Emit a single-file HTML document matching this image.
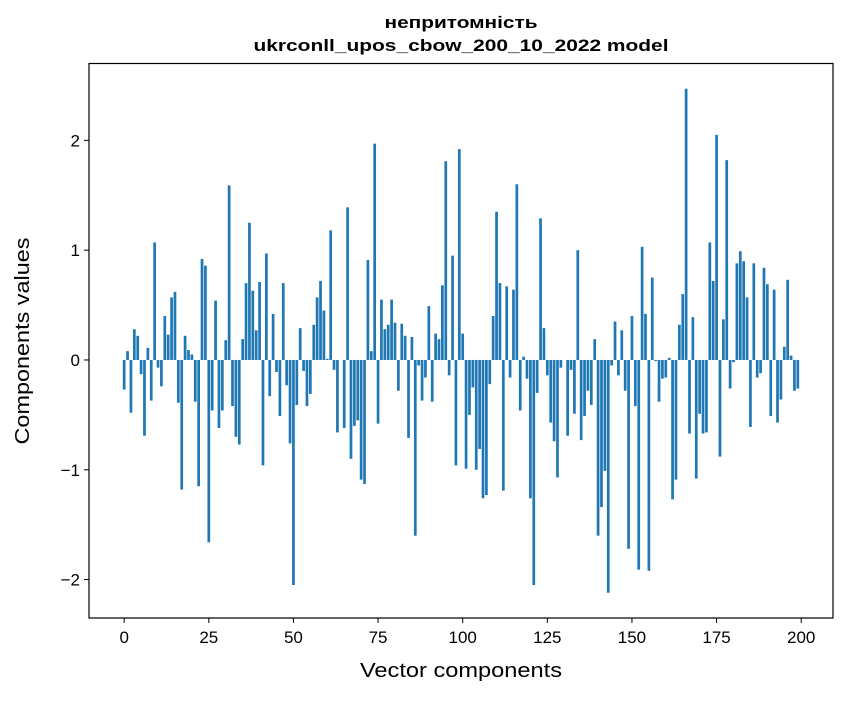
<!DOCTYPE html>
<html><head><meta charset="utf-8"><style>
body{margin:0;background:#fff;}
svg text{font-family:"Liberation Sans","DejaVu Sans",sans-serif;fill:#000;}
</style></head><body>
<svg id="chart" width="847" height="696" viewBox="0 0 847 696" xmlns="http://www.w3.org/2000/svg">
<rect x="0" y="0" width="847" height="696" fill="#fff"/>
<text x="461" y="28" text-anchor="middle" font-size="17" font-weight="bold" textLength="153" lengthAdjust="spacingAndGlyphs">непритомність</text>
<text x="461" y="51" text-anchor="middle" font-size="17" font-weight="bold" textLength="415" lengthAdjust="spacingAndGlyphs">ukrconll_upos_cbow_200_10_2022 model</text>
<g id="bars"></g>
<g id="xticks"></g>
<g id="yticks"></g>
<rect x="89" y="63.5" width="744" height="554.5" fill="none" stroke="#000" stroke-width="1.2"/>
<text x="461" y="677" text-anchor="middle" font-size="20" textLength="202" lengthAdjust="spacingAndGlyphs">Vector components</text>
<text x="0" y="0" transform="translate(29,341) rotate(-90)" text-anchor="middle" font-size="20" textLength="207" lengthAdjust="spacingAndGlyphs">Components values</text>
</svg>
<script>
const values = [-0.27,0.08,-0.48,0.28,0.22,-0.13,-0.69,0.11,-0.37,1.07,
-0.07,-0.24,0.40,0.23,0.57,0.62,-0.39,-1.18,0.22,0.09,
0.05,-0.38,-1.15,0.92,0.86,-1.66,-0.46,0.54,-0.62,-0.46,
0.18,1.59,-0.42,-0.70,-0.77,0.19,0.70,1.25,0.63,0.27,
0.71,-0.96,0.97,-0.33,0.42,-0.11,-0.51,0.70,-0.23,-0.76,
-2.05,-0.41,0.29,-0.10,-0.42,-0.31,0.32,0.57,0.72,0.45,
0.01,1.18,-0.09,-0.66,0,-0.62,1.39,-0.90,-0.60,-0.55,
-1.09,-1.13,0.91,0.08,1.97,-0.58,0.55,0.28,0.32,0.55,
0.34,-0.28,0.33,0.22,-0.71,0.21,-1.60,-0.05,-0.37,-0.16,
0.49,-0.38,0.24,0.19,0.68,1.81,-0.14,0.95,-0.96,1.92,
0.24,-0.99,-0.50,-0.25,-1.00,-0.81,-1.26,-1.23,-0.22,0.40,
1.35,0.70,-1.19,0.67,-0.16,0.64,1.60,-0.46,0.03,-0.17,
-1.26,-2.05,-0.30,1.29,0.29,-0.14,-0.57,-0.74,-1.07,-0.07,
0,-0.69,-0.09,-0.49,1.00,-0.73,-0.51,-0.28,-0.41,0.19,
-1.60,-1.34,-1.01,-2.12,-0.05,0.35,-0.14,0.27,-0.28,-1.72,
0.40,-0.42,-1.91,1.03,0.42,-1.92,0.75,-0.01,-0.38,-0.17,
-0.16,0.02,-1.27,-1.09,0.32,0.60,2.47,-0.67,0.39,-1.08,
-0.49,-0.67,-0.66,1.07,0.72,2.05,-0.88,0.37,1.82,-0.26,
-0.02,0.88,0.99,0.90,0.57,-0.61,0.88,-0.16,-0.12,0.84,
0.69,-0.51,0.64,-0.57,-0.36,0.12,0.73,0.04,-0.28,-0.26];
const xTicks = [0,25,50,75,100,125,150,175,200];
const yTicks = [-2,-1,0,1,2];
const yTickLabels = ["\u22122","\u22121","0","1","2"];

const NS = "http://www.w3.org/2000/svg";
const X0 = 89, X1 = 833, Y0 = 63.5, Y1 = 618;
const xMin = -10.39, xMax = 209.39, yMin = -2.35, yMax = 2.70;
function xs(v){ return X0 + (v - xMin) / (xMax - xMin) * (X1 - X0); }
function ys(v){ return Y1 - (v - yMin) / (yMax - yMin) * (Y1 - Y0); }

const gb = document.getElementById('bars');
values.forEach((v, i) => {
  const r = document.createElementNS(NS, 'rect');
  const xl = xs(i - 0.4), xr = xs(i + 0.4);
  const yt = ys(Math.max(v, 0)), yb = ys(Math.min(v, 0));
  r.setAttribute('x', xl);
  r.setAttribute('width', xr - xl);
  r.setAttribute('y', yt);
  r.setAttribute('height', Math.max(yb - yt, 0));
  r.setAttribute('fill', '#1f77b4');
  
  
  gb.appendChild(r);
});

const gx = document.getElementById('xticks');
xTicks.forEach(t => {
  const l = document.createElementNS(NS, 'line');
  l.setAttribute('x1', xs(t)); l.setAttribute('x2', xs(t));
  l.setAttribute('y1', Y1); l.setAttribute('y2', Y1 + 5);
  l.setAttribute('stroke', '#000'); l.setAttribute('stroke-width', '1');
  
  
  gx.appendChild(l);
  const tx = document.createElementNS(NS, 'text');
  tx.setAttribute('x', xs(t)); tx.setAttribute('y', Y1 + 25);
  tx.setAttribute('text-anchor', 'middle'); tx.setAttribute('font-size', '17');
  tx.textContent = t;
  
  
  gx.appendChild(tx);
});

const gy = document.getElementById('yticks');
yTicks.forEach((t, i) => {
  const l = document.createElementNS(NS, 'line');
  l.setAttribute('x1', X0 - 5); l.setAttribute('x2', X0);
  l.setAttribute('y1', ys(t)); l.setAttribute('y2', ys(t));
  l.setAttribute('stroke', '#000'); l.setAttribute('stroke-width', '1');
  
  
  gy.appendChild(l);
  const tx = document.createElementNS(NS, 'text');
  tx.setAttribute('x', X0 - 9); tx.setAttribute('y', ys(t) + 6);
  tx.setAttribute('text-anchor', 'end'); tx.setAttribute('font-size', '17');
  tx.textContent = yTickLabels[i];
  
  
  gy.appendChild(tx);
});
</script>
</body></html>
